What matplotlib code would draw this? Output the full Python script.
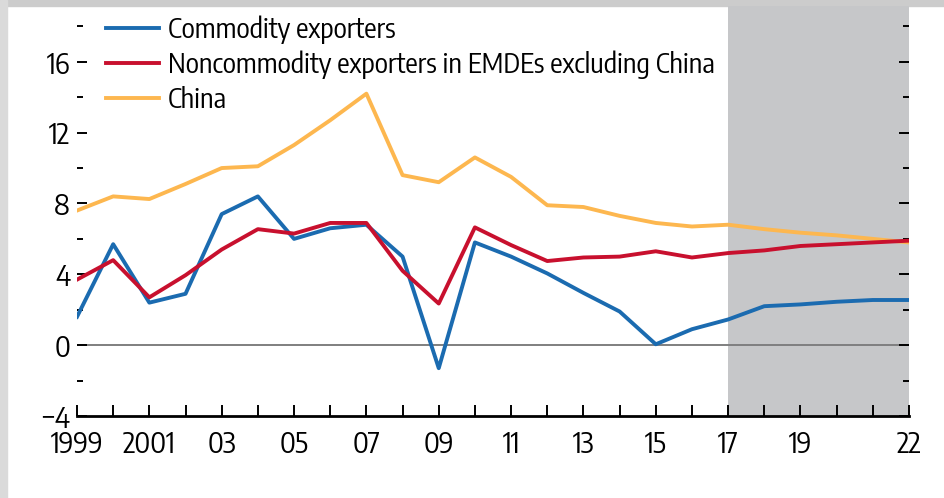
import numpy as np
import matplotlib
matplotlib.use("Agg")
import matplotlib.pyplot as plt
import matplotlib.font_manager as fm
from matplotlib.textpath import TextPath
from matplotlib.patches import Rectangle
from matplotlib.ticker import FixedLocator

years = list(range(1999, 2023))
commodity = [1.6, 5.7, 2.4, 2.9, 7.4, 8.4, 6.0, 6.6, 6.8, 5.0, -1.3, 5.8,
             5.0, 4.05, 2.95, 1.9, 0.05, 0.9, 1.45, 2.2, 2.3, 2.45, 2.55, 2.55]
noncommodity = [3.7, 4.8, 2.7, 3.95, 5.4, 6.55, 6.3, 6.9, 6.9, 4.2, 2.35, 6.65,
                5.65, 4.75, 4.95, 5.0, 5.3, 4.95, 5.2, 5.35, 5.6, 5.7, 5.8, 5.9]
china = [7.6, 8.4, 8.25, 9.1, 10.0, 10.1, 11.3, 12.7, 14.2, 9.6, 9.2, 10.6,
         9.5, 7.9, 7.8, 7.3, 6.9, 6.7, 6.8, 6.55, 6.35, 6.2, 6.0, 5.8]
labels = ["Commodity exporters",
          "Noncommodity exporters in EMDEs excluding China",
          "China"]
tick_text = {1999: "1999", 2001: "2001", 2003: "03", 2005: "05", 2007: "07",
             2009: "09", 2011: "11", 2013: "13", 2015: "15", 2017: "17",
             2019: "19", 2022: "22"}
forecast_start = 2017

# the source uses a condensed sans; among the condensed faces on the
# system, take the one whose long legend entry is nearest ~541 px at 20 pt
target_w = 541 * 72 / 100.0
cands = [f for f in fm.fontManager.ttflist
         if f.style == 'normal' and 'CJK' not in f.name
         and f.weight in (400, 'normal', 'regular', 'book')
         and ('Narrow' in f.name or 'Condensed' in f.name
              or f.stretch not in ('normal', 500))]
best, best_err = None, None
for f in cands[:20]:
    try:
        w = TextPath((0, 0), labels[1], size=20,
                     prop=fm.FontProperties(fname=f.fname)).get_extents().width
    except Exception:
        continue
    err = abs(w - target_w)
    if best is None or err < best_err:
        best, best_err = f, err
if best is not None:
    plt.rcParams['font.family'] = [best.name, 'DejaVu Sans']
    plt.rcParams['font.stretch'] = best.stretch

fig = plt.figure(figsize=(9.45, 4.98), dpi=100)
ax = fig.add_axes([77/945, 1 - 416/498, 832/945, 410/498])

# shadow frame like the source screenshot
fig.patches.append(Rectangle((0, 1 - 6/498), 1, 6/498, transform=fig.transFigure,
                             color='#cccccc', zorder=-5))
fig.patches.append(Rectangle((0, 0), 7/945, 1, transform=fig.transFigure,
                             color='#dadada', zorder=-5))

ax.axvspan(forecast_start, years[-1], color='#c6c7c9', lw=0, zorder=0)
ax.axhline(0, color='#7f7f7f', lw=1.4, zorder=1)

ax.plot(years, commodity, color='#1b6bb0', lw=2.8, label=labels[0], zorder=3)
ax.plot(years, noncommodity, color='#c8102e', lw=2.8, label=labels[1], zorder=3)
ax.plot(years, china, color='#fdb74f', lw=2.8, label=labels[2], zorder=2)

ax.set_xlim(1999, 2022)
ax.set_ylim(-4, 19.15)

ax.xaxis.set_major_locator(FixedLocator(years))
ax.set_xticklabels([tick_text.get(y, "") for y in years])
ax.yaxis.set_major_locator(FixedLocator([-4, 0, 4, 8, 12, 16]))
ax.yaxis.set_minor_locator(FixedLocator([-2, 2, 6, 10, 14, 18]))
ax.set_yticklabels(["\u22124", "0", "4", "8", "12", "16"])

for s in ['top', 'left', 'right']:
    ax.spines[s].set_visible(False)
ax.spines['bottom'].set_linewidth(2)
ax.spines['bottom'].set_zorder(4)

ax.tick_params(axis='x', direction='in', length=8, width=1.4, pad=10,
               labelsize=21)
ax.tick_params(axis='y', which='major', direction='in', length=7.5, width=1.4,
               pad=5, labelsize=21, right=True)
ax.tick_params(axis='y', which='minor', direction='in', length=4, width=1.4,
               right=True)
ax.set_facecolor('none')

ax.legend(loc='upper left', bbox_to_anchor=(0.022, 1.005), frameon=False,
          fontsize=20, handlelength=1.9, handletextpad=0.3, labelspacing=0.25,
          borderaxespad=0)

fig.savefig("out.png", dpi=100)
